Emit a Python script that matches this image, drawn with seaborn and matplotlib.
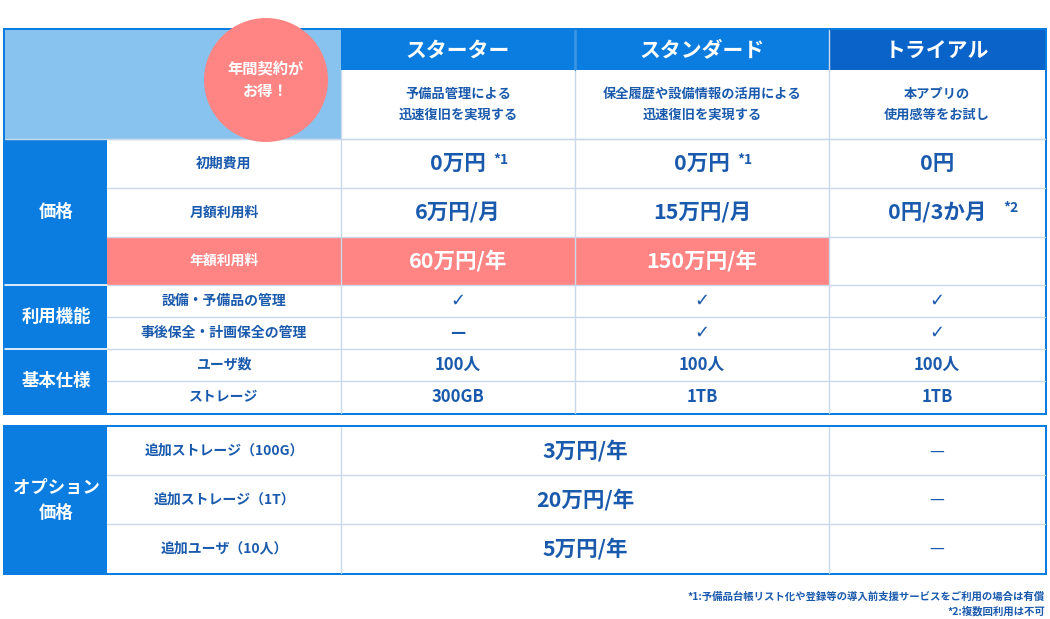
import matplotlib
matplotlib.use("Agg")
import matplotlib.pyplot as plt
from matplotlib.patches import Rectangle, Circle
import seaborn as sns

sns.set_theme(style="white")
plt.rcParams['font.family'] = ['Noto Sans CJK JP', 'DejaVu Sans']

plans = ["スターター", "スタンダード", "トライアル"]
plan_desc = ["予備品管理による\n迅速復旧を実現する", "保全履歴や設備情報の活用による\n迅速復旧を実現する", "本アプリの\n使用感等をお試し"]
groups = ["価格", "利用機能", "基本仕様"]
row_labels = ["初期費用", "月額利用料", "年額利用料", "設備・予備品の管理", "事後保全・計画保全の管理", "ユーザ数", "ストレージ"]
values = [["0万円", "0万円", "0円"],
          ["6万円/月", "15万円/月", "0円/3か月"],
          ["60万円/年", "150万円/年", ""],
          ["✓", "✓", "✓"],
          ["—", "✓", "✓"],
          ["100人", "100人", "100人"],
          ["300GB", "1TB", "1TB"]]
notes = [["*1", "*1", ""], ["", "", "*2"]]
opt_labels = ["追加ストレージ（100G）", "追加ストレージ（1T）", "追加ユーザ（10人）"]
opt_values = ["3万円/年", "20万円/年", "5万円/年"]
opt_trial = ["—", "—", "—"]
footnotes = ["*1:予備品台帳リスト化や登録等の導入前支援サービスをご利用の場合は有償", "*2:複数回利用は不可"]

BLUE = "#0b7de0"; DARK = "#0a63c8"; LIGHT = "#88c3ef"; PINK = "#ff8585"
TXT = "#1a5aad"; GRID = "#c9d9ea"

fig = plt.figure(figsize=(10.5, 6.19), dpi=100)
ax = fig.add_axes([0, 0, 1, 1])
ax.set_xlim(0, 1050); ax.set_ylim(619, 0); ax.axis("off")

def rect(x0, y0, x1, y1, fc, ec="none", lw=0, z=1):
    ax.add_patch(Rectangle((x0, y0), x1 - x0, y1 - y0, fc=fc, ec=ec, lw=lw, zorder=z))

cols = [341, 575, 829, 1045]
rows = [139, 188, 237, 285, 317, 349, 381, 413]
# outer border top table
rect(3, 28, 1047, 415, BLUE)
rect(5, 30, 1045, 413, "white")
rect(5, 30, 341, 139, LIGHT)
for i, p in enumerate(plans):
    rect(cols[i], 30, cols[i+1], 70, DARK if i == 2 else BLUE)
    ax.text((cols[i]+cols[i+1])/2, 50, p, color="white", fontsize=15, weight="bold", ha="center", va="center", zorder=5)
    ax.text((cols[i]+cols[i+1])/2, 104, plan_desc[i], color=TXT, fontsize=9.5, weight="bold", ha="center", va="center", linespacing=1.6, zorder=5)
ax.add_patch(Circle((266, 80), 62, fc=PINK, ec="none", zorder=4))
ax.text(266, 80, "年間契約が\nお得！", color="white", fontsize=11, weight="bold", ha="center", va="center", linespacing=1.5, zorder=5)
# group column
rect(5, 139, 107, 413, BLUE)
gspans = [(139, 285), (285, 349), (349, 413)]
for g, (a, b) in zip(groups, gspans):
    ax.text(56, (a+b)/2, g, color="white", fontsize=12.5, weight="bold", ha="center", va="center")
for y in (285, 349):
    ax.plot([5, 107], [y, y], color="white", lw=1.2, zorder=3)
rect(107, 237, 829, 285, PINK, z=1.5)
# grid
for y in rows[:-1]:
    ax.plot([107, 1045], [y, y], color=GRID, lw=1, zorder=2)
ax.plot([5, 1045], [139, 139], color=GRID, lw=1, zorder=2)
for x in cols[:-1]:
    ax.plot([x, x], [30 if x != 341 else 70, 413], color=GRID, lw=1, zorder=2)
ax.plot([575, 575], [30, 70], color="#3b95e6", lw=1, zorder=3)
for r, lab in enumerate(row_labels):
    yc = (rows[r] + rows[r+1]) / 2
    pink = r == 2
    ax.text(224, yc, lab, color="white" if pink else TXT, fontsize=10, weight="bold", ha="center", va="center", zorder=5)
    big = r < 3
    for c in range(3):
        v = values[r][c]
        if not v:
            continue
        xc = (cols[c] + cols[c+1]) / 2
        col = "white" if pink else TXT
        if v == "✓":
            ax.text(xc, yc, v, color=TXT, fontsize=13, ha="center", va="center", family="DejaVu Sans", zorder=5)
            continue
        t = ax.text(xc, yc, v, color=col, fontsize=15.5 if big else 12, weight="bold", ha="center", va="center", zorder=5)
        if r < 2 and notes[r][c]:
            ax.text(xc + 11 * len(v) * 0.95 + 4, yc - 4, notes[r][c], color=col, fontsize=10, weight="bold", ha="left", va="center", zorder=5)
# option table
rect(3, 425, 1047, 575, BLUE)
rect(5, 427, 1045, 573, "white")
rect(5, 427, 107, 573, BLUE)
ax.text(56, 500, "オプション\n価格", color="white", fontsize=12.5, weight="bold", ha="center", va="center", linespacing=1.5)
orow = [427, 475, 524, 573]
for y in orow[1:-1]:
    ax.plot([107, 1045], [y, y], color=GRID, lw=1, zorder=2)
for x in (341, 829):
    ax.plot([x, x], [427, 573], color=GRID, lw=1, zorder=2)
for i in range(3):
    yc = (orow[i] + orow[i+1]) / 2
    ax.text(224, yc, opt_labels[i], color=TXT, fontsize=10, weight="bold", ha="center", va="center")
    ax.text(585, yc, opt_values[i], color=TXT, fontsize=15.5, weight="bold", ha="center", va="center")
    ax.text(937, yc, opt_trial[i], color=TXT, fontsize=12, ha="center", va="center")
ax.text(1045, 597, footnotes[0], color=TXT, fontsize=7.5, weight="bold", ha="right", va="center")
ax.text(1045, 611, footnotes[1], color=TXT, fontsize=7.5, weight="bold", ha="right", va="center")
fig.savefig("out.png", dpi=100)
